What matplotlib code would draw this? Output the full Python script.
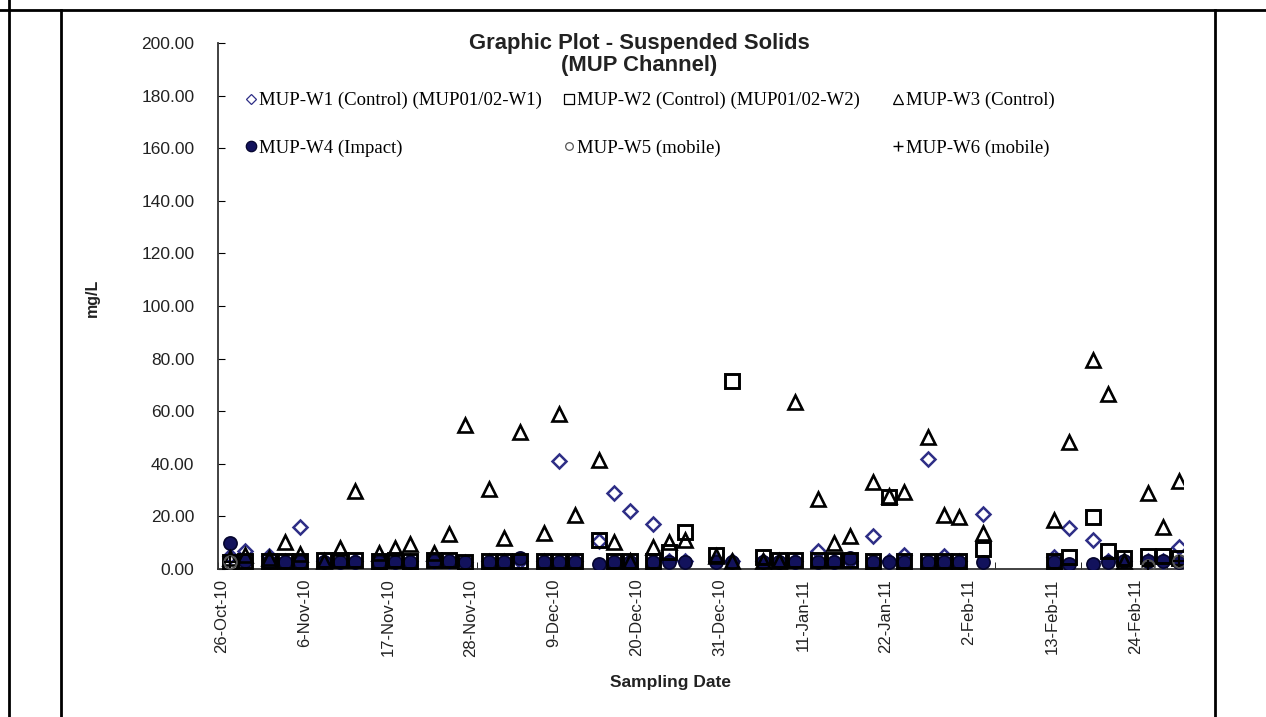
import datetime as dt
import numpy as np
import matplotlib.pyplot as plt
import matplotlib.dates as mdates
from matplotlib.lines import Line2D

plt.rcParams['font.family'] = ['Liberation Sans', 'DejaVu Sans']

# sampling dates (Mon/Wed/Fri) and suspended solids, mg/L
dates = ['27-Oct-10', '29-Oct-10', '1-Nov-10', '3-Nov-10', '5-Nov-10', '8-Nov-10', '10-Nov-10',
         '12-Nov-10', '15-Nov-10', '17-Nov-10', '19-Nov-10', '22-Nov-10', '24-Nov-10', '26-Nov-10',
         '29-Nov-10', '1-Dec-10', '3-Dec-10', '6-Dec-10', '8-Dec-10', '10-Dec-10', '13-Dec-10',
         '15-Dec-10', '17-Dec-10', '20-Dec-10', '22-Dec-10', '24-Dec-10', '28-Dec-10', '30-Dec-10',
         '3-Jan-11', '5-Jan-11', '7-Jan-11', '10-Jan-11', '12-Jan-11', '14-Jan-11', '17-Jan-11',
         '19-Jan-11', '21-Jan-11', '24-Jan-11', '26-Jan-11', '28-Jan-11', '31-Jan-11', '9-Feb-11',
         '11-Feb-11', '14-Feb-11', '16-Feb-11', '18-Feb-11', '21-Feb-11', '23-Feb-11', '25-Feb-11']

w1 = [5, 7, 5, 3, 16, 3, 3, 3, 3, 3, 3, 3, 3, 2.5, 3, 3, 3, 3, 41, 3, 10.5, 28.8, 22, 17, 3, 3, 3, 3,
      3, 3, 3, 7, 3, 3, 12.5, 3, 5.5, 41.8, 5, 3, 21, 4.5, 15.6, 11, 3, 3, 3, 3, 8.4]
w2 = [2.5, 3, 3, 3, 3, 3.5, 3.5, 3.5, 3, 3.5, 3, 3.5, 3.5, 2.5, 3, 3, 3, 3, 3, 3, 11, 3, 3, 3, 6.5, 14,
      5.5, 71.5, 4.5, 3.5, 3.5, 3.5, 3.5, 3.5, 3, 27.5, 3, 3, 3, 3, 7.5, 3, 4.5, 19.8, 7, 4, 5, 5, 4]
w3 = [4, 5.5, 4, 10.3, 5.7, 3, 8, 29.5, 6, 8, 9.5, 6, 13.3, 54.8, 30.4, 11.8, 52, 13.7, 59, 20.5, 41.4,
      10.3, 3, 8.4, 10.3, 11, 5, 3, 3, 3, 63.5, 26.6, 9.9, 12.5, 33, 27.8, 29.3, 50.2, 20.5, 19.8, 13.5,
      18.6, 48.3, 79.5, 66.5, 3, 29, 16, 33.5]
w4 = [10, 3, 2.5, 2.5, 2.5, 2.5, 2.5, 2.5, 2.5, 2.5, 2.5, 3, 3, 2.5, 2.5, 2.5, 4, 2.5, 2.5, 2.5, 2,
      2.5, 2.5, 2.5, 2.5, 2.5, 2.5, 2.5, 2.5, 2.5, 2.5, 2.5, 2.5, 4, 2.5, 2.5, 2.5, 2.5, 2.5, 2.5, 2.5,
      2.5, 2, 2, 2.5, 3, 3, 3, 2.5]
w5_dates = ['27-Oct-10', '21-Feb-11', '25-Feb-11']
w5 = [2.5, 1, 3]
w6_dates = ['27-Oct-10', '21-Feb-11', '25-Feb-11']
w6 = [2.5, 1, 3]

labels = ['MUP-W1 (Control) (MUP01/02-W1)', 'MUP-W2 (Control) (MUP01/02-W2)', 'MUP-W3 (Control)',
          'MUP-W4 (Impact)', 'MUP-W5 (mobile)', 'MUP-W6 (mobile)']

tick_dates = ['26-Oct-10', '6-Nov-10', '17-Nov-10', '28-Nov-10', '9-Dec-10', '20-Dec-10',
              '31-Dec-10', '11-Jan-11', '22-Jan-11', '2-Feb-11', '13-Feb-11', '24-Feb-11']


def todays(lst):
    return mdates.date2num([dt.datetime.strptime(s, '%d-%b-%y') for s in lst])


# excel date axis: each day sits in the middle of its slot
x = todays(dates) + 0.5
x5 = todays(w5_dates) + 0.5
x6 = todays(w6_dates) + 0.5
ticks = todays(tick_dates)
start = ticks[0]

fig = plt.figure(figsize=(12.66, 7.17), dpi=100)
W, H = 1266, 717

# table borders around the chart
for xs, ys in [([0, 1], [1 - 10 / H] * 2), ([9 / W] * 2, [0, 1]),
               ([61 / W] * 2, [0, 1 - 10 / H]), ([1215 / W] * 2, [0, 1 - 10 / H])]:
    fig.add_artist(Line2D(xs, ys, transform=fig.transFigure, color='black', lw=2))

ax = fig.add_axes([218 / W, 1 - 569 / H, 965 / W, 526 / H])

st1 = dict(marker='D', mfc='none', mec='#2e2e86')
st2 = dict(marker='s', mfc='none', mec='black')
st3 = dict(marker='^', mfc='none', mec='black')
st4 = dict(marker='o', mfc='#12125c', mec='#05052e')
st5 = dict(marker='o', mfc='none', mec='#555555')
st6 = dict(marker='+', color='black')

ax.plot(x, w1, ls='none', ms=6.8, mew=1.8, zorder=3, **st1)
ax.plot(x, w4, ls='none', ms=9.5, mew=1.2, zorder=3.1, **st4)
ax.plot(x, w2, ls='none', ms=9.5, mew=2.1, zorder=3.2, **st2)
ax.plot(x, w3, ls='none', ms=10.5, mew=1.9, zorder=3.3, **st3)
ax.plot(x5, w5, ls='none', ms=9, mew=1.5, zorder=3.4, **st5)
ax.plot(x6, w6, ls='none', ms=9, mew=1.5, zorder=3.5, **st6)

ax.set_xlim(start, start + 123)
ax.set_ylim(0, 200)
ax.set_yticks(np.arange(0, 201, 20))
ax.yaxis.set_major_formatter(plt.FormatStrFormatter('%.2f'))
ax.tick_params(axis='y', direction='in', length=5, pad=17, labelsize=12.5, labelcolor='#222222')

# tick marks at the true dates, labels where the source drew them (slightly squeezed)
squeeze = 0.962
ax.set_xticks(ticks, minor=True)
ax.set_xticks(start + 0.5 + (ticks - start) * squeeze)
ax.set_xticklabels(tick_dates, rotation=90)
ax.tick_params(axis='x', which='minor', direction='in', length=5)
ax.tick_params(axis='x', which='major', length=0, pad=7, labelsize=12, labelcolor='#222222')

for s in ['top', 'right']:
    ax.spines[s].set_visible(False)
for s in ['left', 'bottom']:
    ax.spines[s].set_color('#333333')
    ax.spines[s].set_linewidth(1.3)

fig.text(639 / W, 1 - 44 / H, 'Graphic Plot - Suspended Solids', ha='center', va='center',
         fontsize=15.8, fontweight='bold', color='#222222')
fig.text(639 / W, 1 - 66 / H, '(MUP Channel)', ha='center', va='center',
         fontsize=15.8, fontweight='bold', color='#222222')
fig.text(92 / W, 1 - 298 / H, 'mg/L', rotation=90, ha='center', va='center', fontsize=11.5,
         fontweight='bold', color='#222222')
fig.text(670 / W, 1 - 683 / H, 'Sampling Date', ha='center', va='center', fontsize=12.5,
         fontweight='bold', color='#222222')

# legend as three columns: W1/W4, W2/W5, W3/W6 (thin glyph-like symbols)
leg_h = [Line2D([], [], ls='none', ms=5, mew=0.9, **st1),
         Line2D([], [], ls='none', ms=6.5, mew=0.9, **st2),
         Line2D([], [], ls='none', ms=7, mew=0.9, **st3),
         Line2D([], [], ls='none', ms=7.5, mew=0.9, **st4),
         Line2D([], [], ls='none', ms=5.5, mew=0.9, **st5),
         Line2D([], [], ls='none', ms=7, mew=1.0, **st6)]
leg_font = {'family': ['Liberation Serif', 'DejaVu Serif'], 'size': 13.5}
for i, col in enumerate([246, 564, 893]):
    leg = ax.legend([leg_h[i], leg_h[i + 3]], [labels[i], labels[i + 3]], loc='upper left',
                    bbox_to_anchor=(col / W, 1 - 92 / H), bbox_transform=fig.transFigure,
                    frameon=False, borderpad=0, borderaxespad=0,
                    handlelength=0.5, handletextpad=0.2, labelspacing=1.62, prop=leg_font)
    if i < 2:
        ax.add_artist(leg)

fig.savefig('out.png', dpi=100)
